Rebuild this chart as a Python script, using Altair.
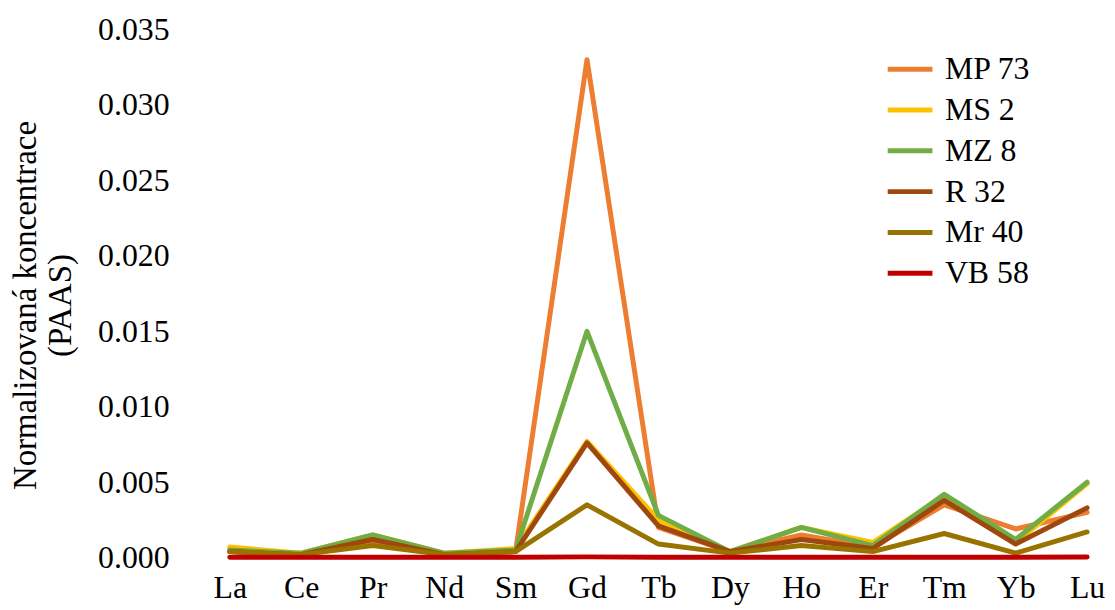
import altair as alt
import pandas as pd

elements = ["La", "Ce", "Pr", "Nd", "Sm", "Gd", "Tb", "Dy", "Ho", "Er", "Tm", "Yb", "Lu"]
series_names = ["MP 73", "MS 2", "MZ 8", "R 32", "Mr 40", "VB 58"]
series_colors = ["#ED7D31", "#FFC000", "#70AD47", "#9E480E", "#997300", "#C00000"]

mp73 = [0.0004, 0.0002, 0.0011, 0.0002, 0.0004, 0.0330, 0.0020, 0.0004, 0.0015, 0.0007, 0.0035, 0.0019, 0.0030]
ms2 = [0.0007, 0.0003, 0.0015, 0.0003, 0.0006, 0.0077, 0.0025, 0.0004, 0.0020, 0.0010, 0.0041, 0.0010, 0.0049]
mz8 = [0.0005, 0.0003, 0.0015, 0.0003, 0.0005, 0.0150, 0.0028, 0.0004, 0.0020, 0.0008, 0.0042, 0.0012, 0.0050]
r32 = [0.0004, 0.0002, 0.0012, 0.0002, 0.0004, 0.0076, 0.0021, 0.0004, 0.0012, 0.0006, 0.0038, 0.0009, 0.0033]
mr40 = [0.0004, 0.0002, 0.0008, 0.0002, 0.0004, 0.0035, 0.0009, 0.0003, 0.0008, 0.0004, 0.0016, 0.0003, 0.0017]
vb58 = [0.00003, 0.00002, 0.00003, 0.00002, 0.00002, 0.00005, 0.00002, 0.00002, 0.00002, 0.00002, 0.00003, 0.00002, 0.00004]

y_ticks = [0.0, 0.005, 0.010, 0.015, 0.020, 0.025, 0.030, 0.035]

rows = []
for k, (name, vals) in enumerate(zip(series_names, [mp73, ms2, mz8, r32, mr40, vb58])):
    for el, v in zip(elements, vals):
        rows.append({"element": el, "value": v, "sample": name, "k": k})
df = pd.DataFrame(rows)

FONT = "Liberation Serif"
FS = 32

chart = alt.Chart(df).mark_line(strokeWidth=5, strokeJoin="round", strokeCap="round").encode(
    x=alt.X("element:N", sort=elements,
            scale=alt.Scale(range=[33, 895], padding=0),
            axis=alt.Axis(title=None, labelAngle=0, ticks=False, labelPadding=15,
                          labelFontSize=FS, labelFont=FONT, labelColor="#000",
                          domainColor="#000", domainWidth=1.2, grid=False)),
    y=alt.Y("value:Q",
            scale=alt.Scale(domain=[0, 0.035], nice=False, zero=True),
            axis=alt.Axis(values=y_ticks, format=".3f", domain=False, ticks=False, grid=False,
                          labelPadding=28, labelFontSize=FS, labelFont=FONT, labelColor="#000",
                          title=["Normalizovaná koncentrace", "(PAAS)"],
                          titleFont=FONT, titleFontSize=33, titleFontWeight="normal",
                          titleColor="#000", titleLineHeight=35,
                          titleX=-172, titleY=277, titleAngle=270,
                          titleAlign="center", titleBaseline="middle")),
    color=alt.Color("sample:N", sort=series_names,
                    scale=alt.Scale(domain=series_names, range=series_colors),
                    legend=alt.Legend(title=None, orient="none", legendX=692, legendY=15,
                                      symbolType="stroke", symbolSize=2025, symbolStrokeWidth=5,
                                      labelFont=FONT, labelFontSize=FS, labelColor="#000",
                                      labelOffset=10, rowPadding=0, padding=0, labelLimit=300)),
    detail="k:O",
).properties(
    width=900, height=531,
    autosize=alt.AutoSizeParams(type="none"),
    padding={"left": 190, "top": 20, "right": 15, "bottom": 50},
).configure_view(stroke=None)

chart.save("out.html", embed_options={"renderer": "svg", "actions": False})
